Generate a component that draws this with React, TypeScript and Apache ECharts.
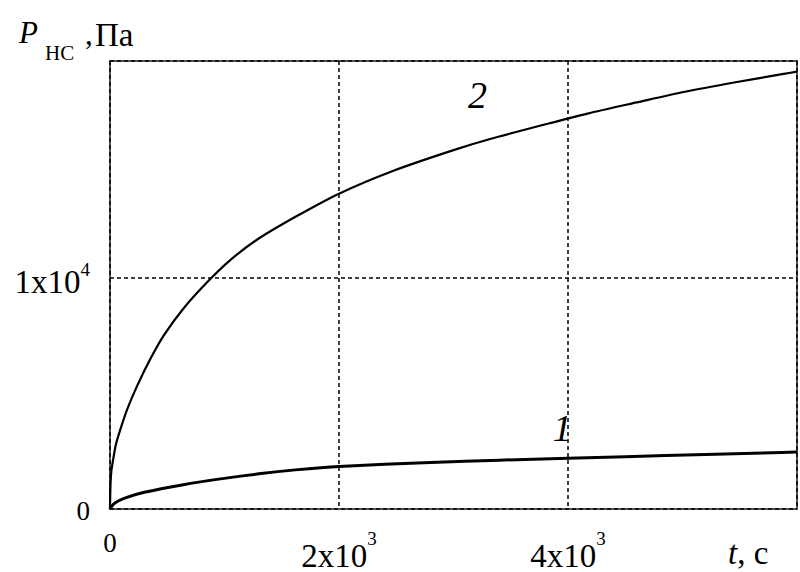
import React, { useEffect, useRef } from "react";
import * as echarts from "echarts";

// Time, s
const curve2T = [0, 4, 12, 28, 50, 85, 150, 240, 360, 470, 640, 850, 1050, 1280, 1620, 2000, 2470, 3000, 3320, 3830, 4170, 4600, 5020, 5450, 5870, 6000];
// P_НС, Pa (curve 2)
const curve2P = [0, 1000, 1650, 2150, 2750, 3350, 4300, 5350, 6550, 7500, 8650, 9800, 10750, 11620, 12620, 13620, 14600, 15500, 15980, 16650, 17080, 17560, 18020, 18420, 18780, 18890];

const curve1T = [0, 14, 43, 128, 300, 640, 950, 1300, 1620, 2000, 2800, 3400, 4000, 4500, 5200, 5870, 6000];
const curve1P = [0, 110, 260, 470, 720, 1050, 1290, 1520, 1690, 1840, 2010, 2110, 2190, 2260, 2355, 2445, 2462];

const xTicks: Record<number, string> = { 0: "{z|0}", 2000: "{n|2x10}{s|3}", 4000: "{n|4x10}{s|3}" };
const yTicks: Record<number, string> = { 0: "{z|0}", 10000: "{n|1x10}{s|4}" };

const curveLabels = [
  { name: "2", coord: [3210, 17890] },
  { name: "1", coord: [3950, 3490] },
];

const FONT = "Liberation Serif";

export default function App() {
  const ref = useRef<HTMLDivElement>(null);
  useEffect(() => {
    if (!ref.current) return;
    const chart = echarts.init(ref.current, null, { renderer: "svg" });
    const pair = (t: number[], p: number[]) => t.map((v, i) => [v, p[i]]);
    const gridLine = { show: true, lineStyle: { color: "#000", type: [4, 3] as any, width: 1.5 } };
    chart.setOption({
      animation: false,
      backgroundColor: "#fff",
      textStyle: { fontFamily: FONT },
      grid: { left: 110, top: 61, width: 705, height: 448, show: true, borderColor: "#555", borderWidth: 2, backgroundColor: "transparent" },
      xAxis: {
        type: "value",
        min: 0,
        max: 6000,
        interval: 2000,
        axisLine: { show: false },
        axisTick: { show: false },
        splitLine: gridLine,
        axisLabel: {
          margin: 20,
          color: "#000",
          fontFamily: FONT,
          formatter: (v: number) => xTicks[v] ?? "",
          rich: {
            n: { fontSize: 33, lineHeight: 43, verticalAlign: "bottom", fontFamily: FONT, color: "#000" },
            s: { fontSize: 19, verticalAlign: "top", fontFamily: FONT, color: "#000" },
            z: { fontSize: 27, verticalAlign: "top", fontFamily: FONT, color: "#000" },
          },
        },
      },
      yAxis: {
        type: "value",
        min: 0,
        max: 19350,
        interval: 10000,
        axisLine: { show: false },
        axisTick: { show: false },
        splitLine: gridLine,
        axisLabel: {
          margin: 20,
          color: "#000",
          fontFamily: FONT,
          padding: [4, 0, 0, 0],
          formatter: (v: number) => yTicks[v] ?? "",
          rich: {
            n: { fontSize: 33, lineHeight: 39, verticalAlign: "bottom", fontFamily: FONT, color: "#000" },
            s: { fontSize: 19, verticalAlign: "top", fontFamily: FONT, color: "#000" },
            z: { fontSize: 27, fontFamily: FONT, color: "#000" },
          },
        },
      },
      series: [
        {
          type: "line",
          data: pair(curve2T, curve2P),
          showSymbol: false,
          smooth: 0.25,
          lineStyle: { color: "#000", width: 2.2 },
          markPoint: {
            symbol: "circle",
            symbolSize: 1,
            itemStyle: { color: "transparent" },
            label: { show: true, position: "inside", formatter: "{b}", fontSize: 38, fontStyle: "italic", fontFamily: FONT, color: "#000" },
            data: [curveLabels[0]],
          },
        },
        {
          type: "line",
          data: pair(curve1T, curve1P),
          showSymbol: false,
          smooth: 0.25,
          lineStyle: { color: "#000", width: 3 },
          markPoint: {
            symbol: "circle",
            symbolSize: 1,
            itemStyle: { color: "transparent" },
            label: { show: true, position: "inside", formatter: "{b}", fontSize: 38, fontStyle: "italic", fontFamily: FONT, color: "#000" },
            data: [curveLabels[1]],
          },
        },
      ],
      graphic: [
        { type: "text", left: 19, top: 17, style: { text: "P", fontSize: 31, fontStyle: "italic", fontFamily: FONT, fill: "#000" } },
        { type: "text", left: 45, top: 42, style: { text: "НС", fontSize: 21, fontFamily: FONT, fill: "#000" } },
        { type: "text", left: 85, top: 18, style: { text: ",", fontSize: 31, fontFamily: FONT, fill: "#000" } },
        { type: "text", left: 95, top: 18, style: { text: "Па", fontSize: 33, fontFamily: FONT, fill: "#000" } },
        {
          type: "text",
          left: 728,
          top: 536,
          style: {
            text: "{i|t}{n|, с}",
            rich: {
              i: { fontSize: 33, fontStyle: "italic", fontFamily: FONT, fill: "#000" },
              n: { fontSize: 33, fontFamily: FONT, fill: "#000" },
            },
          },
        },
      ],
    });
    return () => chart.dispose();
  }, []);
  return <div ref={ref} style={{ position: "fixed", left: 0, top: 0, width: 800, height: 572 }} />;
}
